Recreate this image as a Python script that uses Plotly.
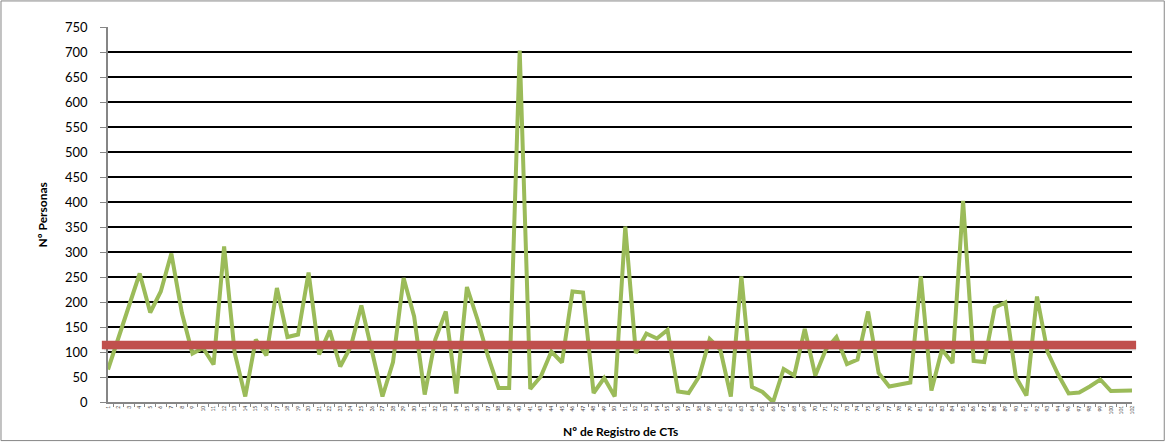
import plotly.graph_objects as go

# Record numbers (category labels) - 98 records shown, last label 102
skipped = [42, 60, 80, 95]  # provisional guess of missing record numbers
record_labels = [str(i) for i in range(1, 103) if i not in skipped]

personas = [65, 128, 188, 257, 179, 221, 297, 178, 97, 108,
            75, 311, 98, 11, 125, 93, 228, 130, 135, 259,
            95, 143, 71, 111, 193, 105, 11, 80, 248, 171,
            15, 125, 181, 17, 230, 165, 91, 28, 28, 703,
            26, 51, 101, 79, 221, 219, 18, 48, 11, 351,
            98, 137, 127, 144, 21, 18, 51, 126, 105, 11,
            251, 30, 20, 0, 66, 53, 146, 53, 105, 130,
            76, 85, 181, 58, 31, 35, 39, 251, 23, 105,
            78, 402, 82, 80, 189, 199, 50, 13, 211, 100,
            55, 17, 19, 31, 45, 22, 22, 23]

mean_line_value = 114

y_ticks = list(range(0, 751, 50))

fig = go.Figure()
fig.add_trace(go.Scatter(
    x=record_labels, y=personas, mode="lines",
    line=dict(color="#9BBB59", width=4), showlegend=False,
))

# mean reference line (drawn across the plot, slightly overhanging)
fig.add_shape(type="line", xref="paper", yref="y", x0=-0.004, x1=1.004,
              y0=mean_line_value - 5, y1=mean_line_value - 5,
              line=dict(color="rgba(0,0,0,0.10)", width=6), layer="above")
fig.add_shape(type="line", xref="paper", yref="y", x0=-0.006, x1=1.004,
              y0=mean_line_value, y1=mean_line_value,
              line=dict(color="#C0504D", width=8.5), layer="above")

# outer chart border
fig.add_shape(type="rect", xref="paper", yref="paper",
              x0=-0.1045, x1=1.0315, y0=-0.1029, y1=1.0695,
              line=dict(color="#868686", width=1), fillcolor="rgba(0,0,0,0)")

fig.update_layout(
    width=1166, height=445,
    margin=dict(l=108, r=34, t=27, b=43),
    paper_bgcolor="white", plot_bgcolor="white",
    font=dict(family="Lato, Liberation Sans, sans-serif", color="black"),
    xaxis=dict(
        type="category", tickson="boundaries", ticks="outside", ticklen=3,
        tickcolor="#868686", showline=True, linecolor="#868686", linewidth=1.5,
        tickangle=-90, tickfont=dict(size=5, color="#404040"),
        showgrid=False, automargin=False,
    ),
    yaxis=dict(
        range=[0, 750], tickvals=y_ticks, ticks="outside", ticklen=6,
        tickcolor="#868686", showline=True, linecolor="#868686", linewidth=1.5,
        showgrid=True, gridcolor="black", gridwidth=1.7, zeroline=False,
        tickfont=dict(size=13), ticklabelstandoff=10, automargin=False,
    ),
    annotations=[
        dict(text="<b>Nº de Registro de CTs</b>", xref="paper", yref="paper",
             x=0.5, y=-0.078, yanchor="middle", showarrow=False,
             font=dict(size=12)),
        dict(text="<b>Nº Personas</b>", xref="paper", yref="paper",
             x=-0.0635, y=0.5, xanchor="center", yanchor="middle",
             textangle=-90, showarrow=False, font=dict(size=12)),
    ],
)

fig.write_html("out.html", config={"displayModeBar": False},
               post_script="document.body.style.margin='0';document.body.style.overflow='hidden';")
